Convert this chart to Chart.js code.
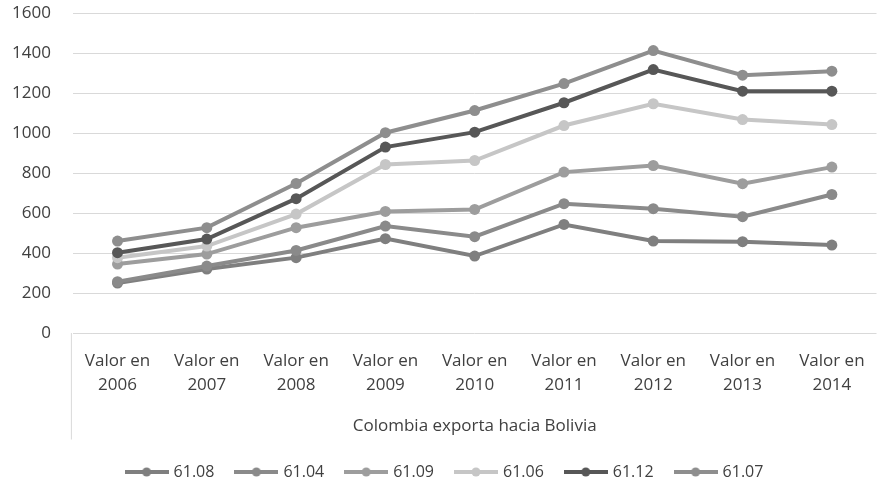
<!DOCTYPE html>
<html>
<head>
<meta charset="utf-8">
<script src="https://cdn.jsdelivr.net/npm/chart.js@4.4.1/dist/chart.umd.min.js"></script>
<style>
  html, body { margin: 0; padding: 0; background: #fff; }
  .wrap { width: 882px; height: 482px; }
</style>
</head>
<body>
<div class="wrap"><canvas class="myChart"></canvas></div>
<script>
const years = ["2006", "2007", "2008", "2009", "2010", "2011", "2012", "2013", "2014"];
const yTicks = [0, 200, 400, 600, 800, 1000, 1200, 1400, 1600];

const s6108 = [250, 320, 377, 472, 385, 543, 460, 457, 440];
const s6104 = [257, 335, 413, 535, 482, 647, 622, 582, 693];
const s6109 = [345, 395, 527, 608, 618, 805, 838, 747, 830];
const s6106 = [377, 435, 595, 843, 863, 1038, 1147, 1068, 1043];
const s6112 = [402, 470, 672, 930, 1005, 1152, 1318, 1210, 1210];
const s6107 = [460, 527, 748, 1002, 1113, 1248, 1413, 1290, 1310];

const seriesNames = ["61.08", "61.04", "61.09", "61.06", "61.12", "61.07"];
const seriesData = [s6108, s6104, s6109, s6106, s6112, s6107];
const seriesColors = ["#7f7f7f", "#8a8a8a", "#9d9d9d", "#c6c6c6", "#575757", "#8e8e8e"];

const textColor = "#404040";
const fontFamily = "'Open Sans', sans-serif";

// little "line with a dot" swatch for the legend
function legendSwatch(color) {
  const c = document.createElement("canvas");
  c.width = 44;
  c.height = 12;
  const g = c.getContext("2d");
  g.strokeStyle = color;
  g.lineWidth = 4;
  g.beginPath();
  g.moveTo(0, 6);
  g.lineTo(44, 6);
  g.stroke();
  g.fillStyle = color;
  g.beginPath();
  g.arc(22, 6, 4.5, 0, Math.PI * 2);
  g.fill();
  return c;
}

// vertical separator at the left of the category axis (two-level axis look)
const groupLine = {
  id: "groupLine",
  afterDraw(chart) {
    const x = chart.scales.x;
    const ctx = chart.ctx;
    ctx.save();
    ctx.strokeStyle = "#d9d9d9";
    ctx.lineWidth = 1;
    ctx.beginPath();
    ctx.moveTo(chart.chartArea.left - 1.5, chart.chartArea.bottom);
    ctx.lineTo(chart.chartArea.left - 1.5, x.bottom - 1.5);
    ctx.stroke();
    ctx.restore();
  },
};

const ctx = document.querySelector(".myChart").getContext("2d");
const myChart = new Chart(ctx, {
  type: "line",
  data: {
    labels: years.map((y) => ["Valor en", y]),
    datasets: seriesNames.map((name, i) => ({
      label: name,
      data: seriesData[i],
      borderColor: seriesColors[i],
      backgroundColor: seriesColors[i],
      borderWidth: 4,
      pointRadius: 5.5,
      pointHoverRadius: 5.5,
      pointBorderWidth: 0,
      tension: 0,
      order: seriesNames.length - i,
    })),
  },
  options: {
    responsive: true,
    maintainAspectRatio: false,
    animation: false,
    layout: { padding: { top: 0, right: 0, left: 9, bottom: -8 } },
    scales: {
      x: {
        offset: true,
        grid: { display: false, drawTicks: false },
        border: { display: false },
        ticks: {
          color: textColor,
          font: { family: fontFamily, size: 17, lineHeight: 1.4 },
          padding: 16,
          maxRotation: 0,
          autoSkip: false,
        },
        title: {
          display: true,
          text: "Colombia exporta hacia Bolivia",
          color: textColor,
          font: { family: fontFamily, size: 17, lineHeight: 1.4 },
          padding: { top: 0, bottom: 3 },
        },
        afterFit(axis) {
          axis.height = 108;
        },
      },
      y: {
        min: 0,
        max: 1600,
        afterBuildTicks(axis) {
          axis.ticks = yTicks.map((v) => ({ value: v }));
        },
        grid: {
          color: "#d9d9d9",
          lineWidth: 1,
          drawTicks: true,
          tickLength: 19,
          tickColor: "rgba(0,0,0,0)",
        },
        border: { display: false },
        ticks: {
          color: textColor,
          font: { family: fontFamily, size: 17 },
          padding: 3,
          callback: (v) => String(v),
        },
      },
    },
    plugins: {
      tooltip: { enabled: false },
      legend: {
        position: "bottom",
        labels: {
          color: textColor,
          font: { family: fontFamily, size: 16 },
          usePointStyle: true,
          pointStyleWidth: 38,
          padding: 23,
          generateLabels(chart) {
            const items = Chart.defaults.plugins.legend.labels.generateLabels(chart);
            items.sort((a, b) => a.datasetIndex - b.datasetIndex);
            items.forEach((it) => {
              it.pointStyle = legendSwatch(seriesColors[it.datasetIndex]);
            });
            return items;
          },
        },
      },
    },
  },
  plugins: [groupLine],
});
</script>
</body>
</html>
